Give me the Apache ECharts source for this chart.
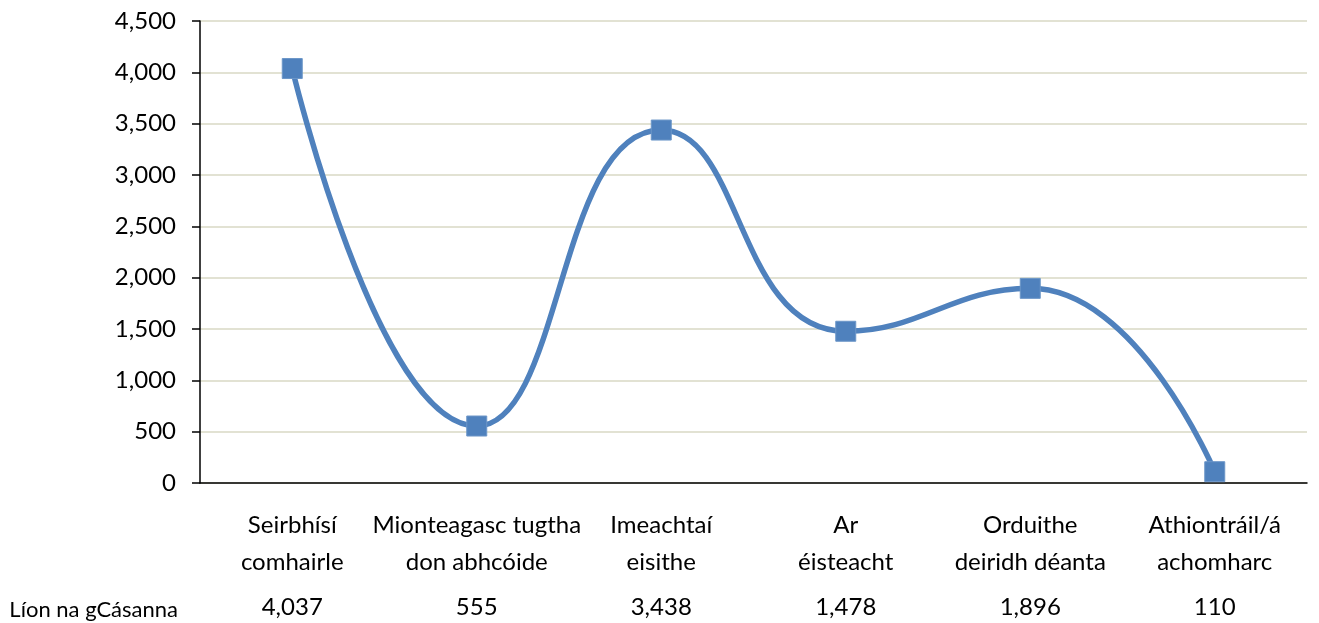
<!DOCTYPE html>
<html>
<head>
<meta charset="utf-8">
<script src="https://cdn.jsdelivr.net/npm/echarts@6/dist/echarts.min.js"></script>
<style>
  html, body { margin: 0; padding: 0; background: #fff; }
  #chart { width: 1319px; height: 623px; }
</style>
</head>
<body>
<div id="chart"></div>
<script>
  // categories (two-line labels) and case counts
  const categories = [
    'Seirbhísí\ncomhairle',
    'Mionteagasc tugtha\ndon abhcóide',
    'Imeachtaí\neisithe',
    'Ar\néisteacht',
    'Orduithe\ndeiridh déanta',
    'Athiontráil/á\nachomharc',
  ];
  const caseCounts = [4037, 555, 3438, 1478, 1896, 110];
  const tableLabel = 'Líon na gCásanna';

  const fmt = (v) => Number(v).toLocaleString('en-US');
  const font = 'Lato, "Open Sans", sans-serif';

  const chart = echarts.init(document.getElementById('chart'));

  chart.setOption({
    animation: false,
    textStyle: { fontFamily: font },
    grid: { left: 200, right: 12, top: 21, bottom: 140, outerBoundsMode: 'none', containLabel: false },
    xAxis: [
      {
        type: 'category',
        data: categories,
        boundaryGap: true,
        axisLine: { lineStyle: { color: '#000', width: 1.5 } },
        axisTick: { show: false },
        axisLabel: {
          color: '#000',
          fontFamily: font,
          fontSize: 24,
          lineHeight: 37,
          margin: 24,
          interval: 0,
        },
      },
      {
        // data table row under the chart
        type: 'category',
        position: 'bottom',
        offset: 104,
        data: caseCounts.map(fmt),
        axisLine: { show: false },
        axisTick: { show: false },
        axisLabel: {
          color: '#000',
          fontFamily: font,
          fontSize: 24,
          margin: 8,
          interval: 0,
        },
        name: tableLabel,
        nameLocation: 'start',
        nameGap: 22,
        nameTextStyle: {
          color: '#000',
          fontFamily: font,
          fontSize: 22,
          verticalAlign: 'top',
          lineHeight: 46,
        },
      },
    ],
    yAxis: {
      type: 'value',
      min: 0,
      max: 4500,
      interval: 500,
      axisLine: { show: true, lineStyle: { color: '#000', width: 1.5 } },
      axisTick: { show: true, length: 8, lineStyle: { color: '#000', width: 1.5 } },
      axisLabel: {
        color: '#000',
        fontFamily: font,
        fontSize: 24,
        margin: 24,
        formatter: fmt,
      },
      splitLine: { lineStyle: { color: '#D9D8C4', width: 1.5 } },
    },
    series: [
      {
        type: 'line',
        data: caseCounts,
        smooth: 0.5,
        symbol: 'rect',
        symbolSize: 20,
        lineStyle: { color: '#4F81BD', width: 5.5 },
        itemStyle: { color: '#4F81BD', borderColor: '#6C96C8', borderWidth: 1 },
      },
    ],
  });
</script>
</body>
</html>
